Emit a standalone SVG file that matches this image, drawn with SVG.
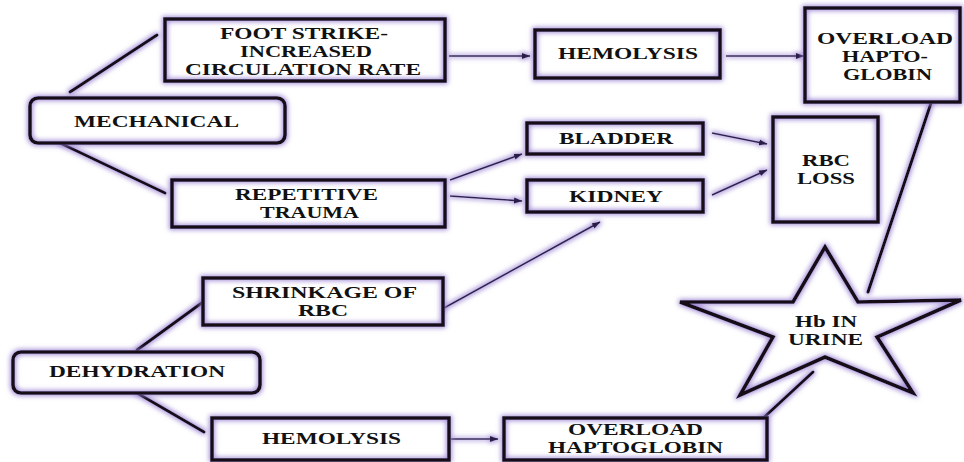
<svg xmlns="http://www.w3.org/2000/svg" width="964" height="462" viewBox="0 0 964 462">
<defs>
<filter id="glow" filterUnits="userSpaceOnUse" x="0" y="0" width="964" height="462">
<feMorphology in="SourceAlpha" operator="dilate" radius="1.2" result="d"/>
<feGaussianBlur in="d" stdDeviation="2.6" result="b"/>
<feFlood flood-color="#957cd0" flood-opacity="0.9"/>
<feComposite in2="b" operator="in" result="g"/>
<feMerge><feMergeNode in="g"/><feMergeNode in="SourceGraphic"/></feMerge>
</filter>
<marker id="arr" markerUnits="userSpaceOnUse" markerWidth="9" markerHeight="7" refX="8" refY="3.5" orient="auto">
<path d="M0,0.5 L8.5,3.5 L0,6.5 Z" fill="#2a1f45"/>
</marker>
</defs>
<style>
.bg{fill:#ffffff;stroke:none}
.bd{fill:none;stroke:#141018;stroke-width:3.6;filter:url(#glow)}
.t{font-family:"Liberation Serif","Times New Roman",serif;font-weight:bold;font-size:17px;fill:#111111;text-anchor:middle}
.thick{stroke:#141018;stroke-width:3;fill:none;stroke-linecap:round}
.thin{stroke:#2e2350;stroke-width:1.6;fill:none;marker-end:url(#arr)}
</style>
<rect width="964" height="462" fill="#ffffff"/>

<g id="connectors" filter="url(#glow)">
<line class="thick" x1="70" y1="92" x2="157" y2="35"/>
<line class="thick" x1="60" y1="143" x2="165" y2="193"/>
<line class="thick" x1="137" y1="350" x2="203" y2="302"/>
<line class="thick" x1="137" y1="393" x2="204" y2="432"/>
<line class="thick" x1="933" y1="97" x2="868" y2="292"/>
<line class="thick" x1="759" y1="422" x2="813" y2="372"/>
<line class="thin" x1="449" y1="56" x2="530" y2="56"/>
<line class="thin" x1="726" y1="56" x2="804" y2="56"/>
<line class="thin" x1="450" y1="180" x2="522" y2="154"/>
<line class="thin" x1="450" y1="196" x2="522" y2="201"/>
<line class="thin" x1="712" y1="133" x2="767" y2="144"/>
<line class="thin" x1="712" y1="195" x2="767" y2="170"/>
<line class="thin" x1="435" y1="313" x2="600" y2="222"/>
<line class="thin" x1="451" y1="439" x2="498" y2="439"/>
</g>

<g id="foot-strike">
<rect class="bg" x="165" y="19" width="280" height="62"/>
<rect class="bd" x="165" y="19" width="280" height="62"/>
<text class="t" x="304" y="39" textLength="168" lengthAdjust="spacingAndGlyphs">FOOT STRIKE-</text>
<text class="t" x="306" y="57" textLength="132" lengthAdjust="spacingAndGlyphs">INCREASED</text>
<text class="t" x="303" y="75" textLength="236" lengthAdjust="spacingAndGlyphs">CIRCULATION RATE</text>
</g>

<g id="mechanical">
<rect class="bg" x="30" y="98" width="255" height="45" rx="8"/>
<rect class="bd" x="30" y="98" width="255" height="45" rx="8"/>
<text class="t" x="156.5" y="127" textLength="165" lengthAdjust="spacingAndGlyphs">MECHANICAL</text>
</g>

<g id="repetitive-trauma">
<rect class="bg" x="172" y="180" width="273" height="47"/>
<rect class="bd" x="172" y="180" width="273" height="47"/>
<text class="t" x="306.5" y="200" textLength="143" lengthAdjust="spacingAndGlyphs">REPETITIVE</text>
<text class="t" x="309.5" y="218" textLength="99" lengthAdjust="spacingAndGlyphs">TRAUMA</text>
</g>

<g id="hemolysis-top">
<rect class="bg" x="535" y="30" width="185" height="48"/>
<rect class="bd" x="535" y="30" width="185" height="48"/>
<text class="t" x="628" y="59" textLength="140" lengthAdjust="spacingAndGlyphs">HEMOLYSIS</text>
</g>

<g id="overload-haptoglobin-top">
<rect class="bg" x="805" y="8" width="155" height="94"/>
<rect class="bd" x="805" y="8" width="155" height="94"/>
<text class="t" x="885" y="44" textLength="136" lengthAdjust="spacingAndGlyphs">OVERLOAD</text>
<text class="t" x="885" y="62" textLength="86" lengthAdjust="spacingAndGlyphs">HAPTO-</text>
<text class="t" x="887.5" y="80" textLength="89" lengthAdjust="spacingAndGlyphs">GLOBIN</text>
</g>

<g id="bladder">
<rect class="bg" x="527" y="123" width="176" height="31"/>
<rect class="bd" x="527" y="123" width="176" height="31"/>
<text class="t" x="616" y="144" textLength="114" lengthAdjust="spacingAndGlyphs">BLADDER</text>
</g>

<g id="kidney">
<rect class="bg" x="527" y="180" width="176" height="32"/>
<rect class="bd" x="527" y="180" width="176" height="32"/>
<text class="t" x="616" y="202" textLength="94" lengthAdjust="spacingAndGlyphs">KIDNEY</text>
</g>

<g id="rbc-loss">
<rect class="bg" x="773" y="117" width="105" height="105"/>
<rect class="bd" x="773" y="117" width="105" height="105"/>
<text class="t" x="826" y="166" textLength="48" lengthAdjust="spacingAndGlyphs">RBC</text>
<text class="t" x="826" y="184" textLength="58" lengthAdjust="spacingAndGlyphs">LOSS</text>
</g>

<g id="shrinkage-of-rbc">
<rect class="bg" x="203" y="278" width="240" height="47"/>
<rect class="bd" x="203" y="278" width="240" height="47"/>
<text class="t" x="324.5" y="298" textLength="185" lengthAdjust="spacingAndGlyphs">SHRINKAGE OF</text>
<text class="t" x="323" y="316" textLength="50" lengthAdjust="spacingAndGlyphs">RBC</text>
</g>

<g id="dehydration">
<rect class="bg" x="13" y="352" width="247" height="41" rx="8"/>
<rect class="bd" x="13" y="352" width="247" height="41" rx="8"/>
<text class="t" x="137" y="377" textLength="176" lengthAdjust="spacingAndGlyphs">DEHYDRATION</text>
</g>

<g id="hemolysis-bottom">
<rect class="bg" x="212" y="418" width="237" height="42"/>
<rect class="bd" x="212" y="418" width="237" height="42"/>
<text class="t" x="331.5" y="444" textLength="139" lengthAdjust="spacingAndGlyphs">HEMOLYSIS</text>
</g>

<g id="overload-haptoglobin-bottom">
<rect class="bg" x="504" y="418" width="263" height="42"/>
<rect class="bd" x="504" y="418" width="263" height="42"/>
<text class="t" x="635.5" y="435" textLength="135" lengthAdjust="spacingAndGlyphs">OVERLOAD</text>
<text class="t" x="635.5" y="453" textLength="175" lengthAdjust="spacingAndGlyphs">HAPTOGLOBIN</text>
</g>

<g id="hb-in-urine">
<polygon class="bg" points="825,247 858,302 961,300 877,337 913,393 825,357 740,395 773,337 680,302 793,302"/>
<polygon class="bd" stroke-linejoin="miter" points="825,247 858,302 961,300 877,337 913,393 825,357 740,395 773,337 680,302 793,302"/>
<text class="t" x="826" y="327" textLength="62" lengthAdjust="spacingAndGlyphs">Hb IN</text>
<text class="t" x="825.5" y="345" textLength="75" lengthAdjust="spacingAndGlyphs">URINE</text>
</g>
</svg>
